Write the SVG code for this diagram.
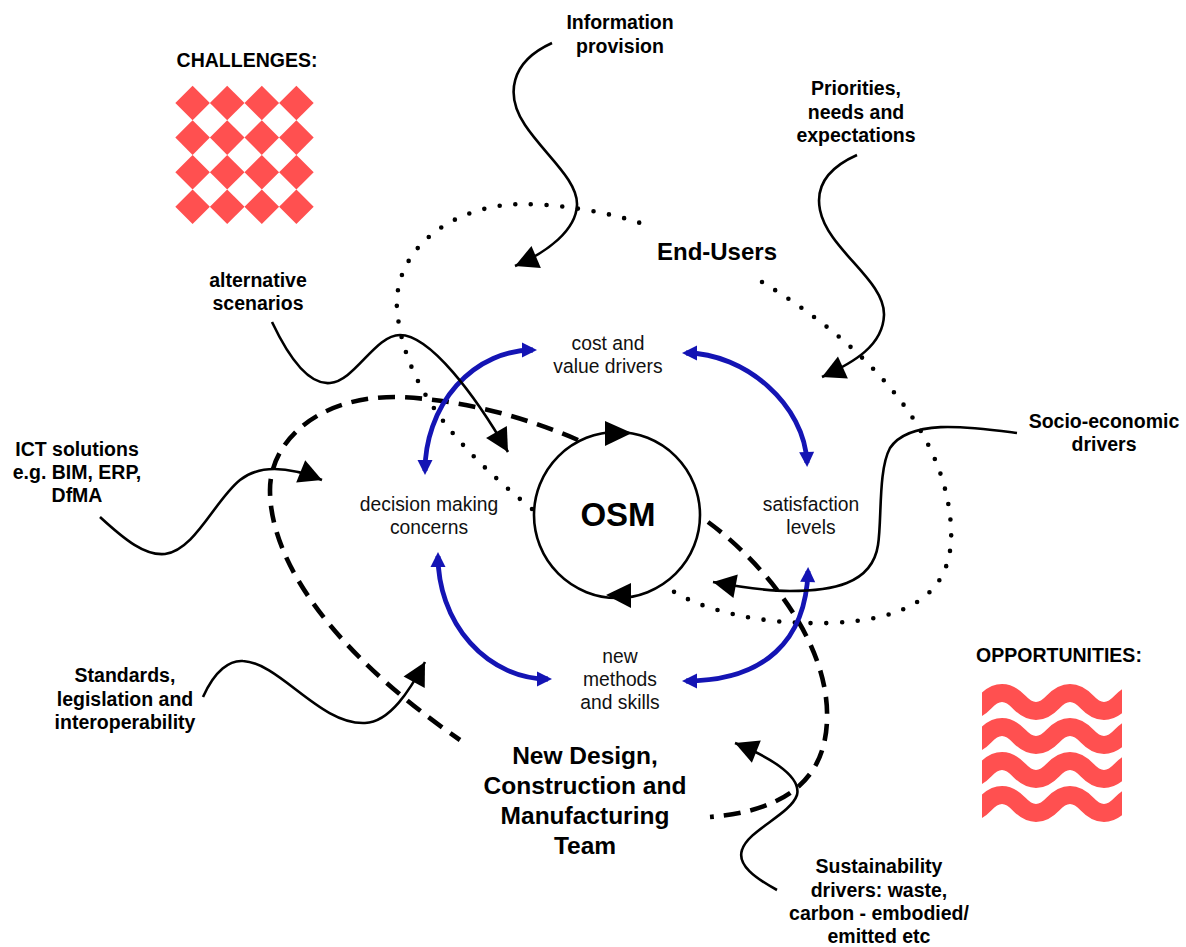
<svg xmlns="http://www.w3.org/2000/svg" width="1186" height="947" viewBox="0 0 1186 947">
<style>
.b{font-family:"Liberation Sans",Arial,sans-serif;font-weight:bold;font-size:19.5px;fill:#000;text-anchor:middle}
.r{font-family:"Liberation Sans",Arial,sans-serif;font-size:19.3px;fill:#111;text-anchor:middle}
.big{font-size:24.5px}
.wire{fill:none;stroke:#000;stroke-width:2.6}
.blue{fill:none;stroke:#1414B4;stroke-width:4.8}
.dot{fill:none;stroke:#000;stroke-width:4.6;stroke-linecap:round;stroke-dasharray:0 15.7}
.dash{fill:none;stroke:#000;stroke-width:4.6;stroke-dasharray:17 10}
.red{fill:#FF5050}
.wave{fill:none;stroke:#FF5050;stroke-width:18}
</style>
<defs>
<marker id="ah" markerUnits="userSpaceOnUse" viewBox="-26 -14 30 28" markerWidth="30" markerHeight="28" refX="0" refY="0" orient="auto" overflow="visible"><path d="M0,0 L-23,-12 L-23,12 z" fill="#000"/></marker>
<marker id="bh" markerUnits="userSpaceOnUse" viewBox="-18 -9 24 18" markerWidth="24" markerHeight="18" refX="-4" refY="0" orient="auto-start-reverse" overflow="visible"><path d="M0,0 L-15,-7.5 L-15,7.5 z" fill="#1414B4"/></marker>
<path id="dia" d="M0,-17.3 L17.3,0 L0,17.3 L-17.3,0 z"/>
<clipPath id="wc"><rect x="982" y="670" width="140" height="170"/></clipPath>
</defs>
<rect width="1186" height="947" fill="#fff"/>

<g id="challenges">
<text class="b" x="247" y="67">CHALLENGES:</text>
<g class="red">
<use href="#dia" x="192.6" y="103"/><use href="#dia" x="227.2" y="103"/><use href="#dia" x="261.8" y="103"/><use href="#dia" x="296.4" y="103"/>
<use href="#dia" x="192.6" y="137.6"/><use href="#dia" x="227.2" y="137.6"/><use href="#dia" x="261.8" y="137.6"/><use href="#dia" x="296.4" y="137.6"/>
<use href="#dia" x="192.6" y="172.2"/><use href="#dia" x="227.2" y="172.2"/><use href="#dia" x="261.8" y="172.2"/><use href="#dia" x="296.4" y="172.2"/>
<use href="#dia" x="192.6" y="206.8"/><use href="#dia" x="227.2" y="206.8"/><use href="#dia" x="261.8" y="206.8"/><use href="#dia" x="296.4" y="206.8"/>
</g>
</g>

<g id="opportunities">
<text class="b" x="1059" y="662">OPPORTUNITIES:</text>
<g clip-path="url(#wc)">
<path class="wave" d="M951 702 Q968 720 985 702 T1019 702 T1053 702 T1087 702 T1121 702 T1155 702"/>
<path class="wave" d="M951 736 Q968 754 985 736 T1019 736 T1053 736 T1087 736 T1121 736 T1155 736"/>
<path class="wave" d="M951 770 Q968 788 985 770 T1019 770 T1053 770 T1087 770 T1121 770 T1155 770"/>
<path class="wave" d="M951 804 Q968 822 985 804 T1019 804 T1053 804 T1087 804 T1121 804 T1155 804"/>
</g>
</g>

<g id="connectors">
<path class="dot" d="M532 509 C460 450 405 390 397 310 C393 250 450 206 520 204 C560 204 610 212 646 225"/>
<path class="dot" d="M762 282 C850 335 945 420 951 527 C955 600 900 620 830 623 C760 625 700 610 668 588"/>
<path class="dash" d="M578 440 C520 415 460 400 400 397 C320 395 270 440 270 490 C270 560 330 650 460 740"/>
<path class="dash" d="M708 522 C760 560 830 640 827 720 C825 790 770 812 710 817"/>
<path class="blue" marker-start="url(#bh)" marker-end="url(#bh)" d="M425 471 A108 121 0 0 1 533 350"/>
<path class="blue" marker-start="url(#bh)" marker-end="url(#bh)" d="M686 353 C745 353 805 405 807 463"/>
<path class="blue" marker-start="url(#bh)" marker-end="url(#bh)" d="M438 556 A110 123 0 0 0 548 679"/>
<path class="blue" marker-start="url(#bh)" marker-end="url(#bh)" d="M808 571 C806 640 765 681 686 681"/>
<path class="wire" marker-end="url(#ah)" d="M552 43 C510 62 505 95 525 125 C545 155 578 180 577 205 C576 230 548 252 515 266"/>
<path class="wire" marker-end="url(#ah)" d="M857 155 C830 167 815 185 820 210 C828 250 885 280 884 315 C883 345 855 362 822 377"/>
<path class="wire" marker-end="url(#ah)" d="M1017 433 C970 427 910 418 890 448 C878 470 882 520 878 545 C872 585 830 591 790 591 C765 591 740 587 713 582"/>
<path class="wire" marker-end="url(#ah)" d="M272 322 C290 360 310 385 330 383 C355 381 375 335 400 335 C430 335 475 395 508 452"/>
<path class="wire" marker-end="url(#ah)" d="M100 517 C125 540 145 556 165 554 C195 550 215 500 240 480 C258 466 285 465 322 480"/>
<path class="wire" marker-end="url(#ah)" d="M203 697 C215 670 230 660 243 661 C280 663 320 725 365 723 C390 722 410 690 425 662"/>
<path class="wire" marker-end="url(#ah)" d="M777 890 C755 878 737 865 742 850 C748 830 790 815 797 795 C802 775 765 755 735 743"/>
</g>

<g id="osm">
<circle cx="617" cy="515" r="83" fill="none" stroke="#000" stroke-width="2.6"/>
<polygon points="632,433 605,421 605,446" fill="#000"/>
<polygon points="606,595 631,583 631,608" fill="#000"/>
<text class="b" x="618" y="526" style="font-size:33px">OSM</text>
</g>

<g id="info-provision"><text class="b" x="620" y="29">Information</text><text class="b" x="620" y="53">provision</text></g>
<g id="priorities"><text class="b" x="856" y="95">Priorities,</text><text class="b" x="856" y="118.5">needs and</text><text class="b" x="856" y="142">expectations</text></g>
<g id="end-users"><text class="b" x="717" y="260" style="font-size:24px">End-Users</text></g>
<g id="alternative"><text class="b" x="258" y="287">alternative</text><text class="b" x="258" y="310">scenarios</text></g>
<g id="socio"><text class="b" x="1104" y="428">Socio-economic</text><text class="b" x="1104" y="451">drivers</text></g>
<g id="ict"><text class="b" x="77" y="456">ICT solutions</text><text class="b" x="77" y="479">e.g. BIM, ERP,</text><text class="b" x="77" y="502">DfMA</text></g>
<g id="standards"><text class="b" x="125" y="682">Standards,</text><text class="b" x="125" y="705.5">legislation and</text><text class="b" x="125" y="729">interoperability</text></g>
<g id="sustainability"><text class="b" x="879" y="873">Sustainability</text><text class="b" x="879" y="896.5">drivers: waste,</text><text class="b" x="879" y="920">carbon - embodied/</text><text class="b" x="879" y="943">emitted etc</text></g>
<g id="team"><text class="b big" x="585" y="764">New Design,</text><text class="b big" x="585" y="794">Construction and</text><text class="b big" x="585" y="824">Manufacturing</text><text class="b big" x="585" y="854">Team</text></g>

<g id="cost"><text class="r" x="608" y="349.5">cost and</text><text class="r" x="608" y="373">value drivers</text></g>
<g id="decision"><text class="r" x="429" y="511">decision making</text><text class="r" x="429" y="534">concerns</text></g>
<g id="satisfaction"><text class="r" x="811" y="511">satisfaction</text><text class="r" x="811" y="534">levels</text></g>
<g id="methods"><text class="r" x="620" y="663">new</text><text class="r" x="620" y="686">methods</text><text class="r" x="620" y="709">and skills</text></g>
</svg>
